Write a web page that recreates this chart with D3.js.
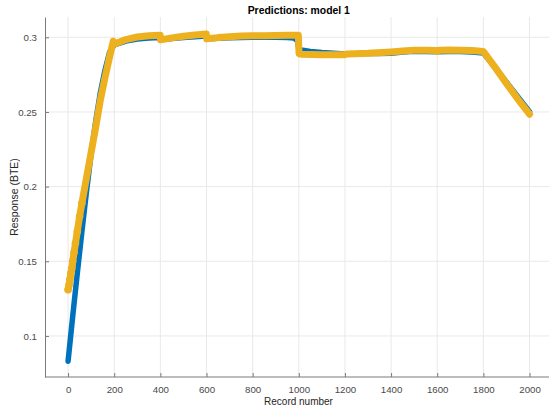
<!DOCTYPE html>
<html>
<head>
<meta charset="utf-8">
<script src="https://cdn.jsdelivr.net/npm/d3@7"></script>
<style>
  html, body { margin: 0; padding: 0; background: #ffffff; }
  svg { display: block; }
  text { font-family: "Liberation Sans", Arial, Helvetica, sans-serif; }
</style>
</head>
<body>
<svg id="chart" width="549" height="409"></svg>
<script>
// Record numbers and responses: true values (blue) and model predictions (yellow)
const trueRecords = [0, 20, 40, 60, 80, 100, 120, 140, 160, 180, 200,
  250, 300, 350, 399, 401, 450, 500, 550, 599, 601, 650, 700, 750, 800,
  850, 900, 950, 980, 995, 1000, 1010, 1050, 1100, 1150, 1200, 1250, 1300,
  1350, 1400, 1450, 1500, 1550, 1600, 1650, 1700, 1750, 1800, 1850, 1900,
  1950, 2000];
const trueValues = [0.083, 0.113, 0.142, 0.170, 0.197, 0.222, 0.244, 0.263, 0.278, 0.290, 0.295,
  0.2975, 0.2988, 0.2995, 0.2998, 0.2983, 0.2992, 0.2999, 0.3004, 0.3008, 0.2988, 0.2993, 0.2997, 0.2999, 0.3000,
  0.3000, 0.3000, 0.2999, 0.2995, 0.2975, 0.2925, 0.2915, 0.2905, 0.2898, 0.2893, 0.2888, 0.2890, 0.2892,
  0.2892, 0.2893, 0.2902, 0.2906, 0.2905, 0.2903, 0.2905, 0.2905, 0.2902, 0.2895, 0.2800, 0.2700,
  0.2600, 0.2502];

const predRecords = [0, 4, 8, 12, 16, 20, 26, 32, 40, 50, 60, 80, 100, 120, 140, 160, 180, 196,
  202, 250, 300, 350, 399, 401, 450, 500, 550, 599, 601, 650, 700, 750, 800, 850, 900, 950, 998,
  1001, 1010, 1100, 1200, 1210, 1300, 1400, 1450, 1500, 1550, 1595, 1600, 1610, 1650, 1700, 1750,
  1800, 1850, 1900, 1950, 2000];
const predValues = [0.131, 0.134, 0.138, 0.142, 0.145, 0.150, 0.156, 0.162, 0.170, 0.180, 0.189, 0.206, 0.223, 0.240, 0.258, 0.273, 0.287, 0.2975,
  0.2955, 0.2985, 0.3002, 0.3010, 0.3013, 0.2983, 0.2996, 0.3007, 0.3016, 0.3022, 0.2990, 0.2998, 0.3004, 0.3008, 0.3010, 0.3010, 0.3012, 0.3013, 0.3013,
  0.2890, 0.2887, 0.2884, 0.2884, 0.2889, 0.2893, 0.2902, 0.2908, 0.2913, 0.2914, 0.2912, 0.2905, 0.2914, 0.2915, 0.2914, 0.2912,
  0.2905, 0.2800, 0.2690, 0.2585, 0.2485];

const xTicks = [0, 200, 400, 600, 800, 1000, 1200, 1400, 1600, 1800, 2000];
const yTicks = [0.1, 0.15, 0.2, 0.25, 0.3];

const titleText = "Predictions: model 1";
const xLabelText = "Record number";
const yLabelText = "Response (BTE)";

const svg = d3.select("#chart");
const plot = { left: 45, right: 552.6, top: 17, bottom: 377 };

const x = d3.scaleLinear().domain([-100, 2100]).range([plot.left, plot.right]);
const y = d3.scaleLinear().domain([0.0725, 0.3136]).range([plot.bottom, plot.top]);

// Grid
const grid = svg.append("g").attr("class", "grid");
grid.selectAll("line.vx").data(xTicks).enter().append("line")
  .attr("x1", d => x(d)).attr("x2", d => x(d))
  .attr("y1", plot.top).attr("y2", plot.bottom)
  .attr("stroke", "#e9e9e9").attr("stroke-width", 1);
grid.selectAll("line.hy").data(yTicks).enter().append("line")
  .attr("x1", plot.left).attr("x2", plot.right)
  .attr("y1", d => y(d)).attr("y2", d => y(d))
  .attr("stroke", "#e9e9e9").attr("stroke-width", 1);

// Axes with inward ticks
const xAxis = d3.axisBottom(x).tickValues(xTicks).tickFormat(d3.format("d"))
  .tickSizeInner(-4).tickSizeOuter(0).tickPadding(9);
const yAxis = d3.axisLeft(y).tickValues(yTicks).tickFormat(d => String(d))
  .tickSizeInner(-4).tickSizeOuter(0).tickPadding(8);

const gx = svg.append("g").attr("transform", `translate(0,${plot.bottom})`).call(xAxis);
const gy = svg.append("g").attr("transform", `translate(${plot.left},0)`).call(yAxis);
[gx, gy].forEach(g => {
  g.select(".domain").attr("stroke", "#7a7a7a").attr("stroke-width", 1);
  g.selectAll(".tick line").attr("stroke", "#7a7a7a");
  g.selectAll(".tick text").attr("fill", "#4a4a4a")
    .style("font-size", "9.7px")
    .style("font-family", "'Liberation Sans', Arial, sans-serif");
});
gx.select(".domain").attr("d", `M${plot.left},0H549`);

// Series
const trueData = trueRecords.map((r, i) => [r, trueValues[i]]);
const predData = predRecords.map((r, i) => [r, predValues[i]]);
const line = d3.line().x(d => x(d[0])).y(d => y(d[1]));

svg.append("path").datum(trueData)
  .attr("d", line)
  .attr("fill", "none")
  .attr("stroke", "#0072BD")
  .attr("stroke-width", 5.5)
  .attr("stroke-linejoin", "round")
  .attr("stroke-linecap", "round");

svg.append("path").datum(predData)
  .attr("d", line)
  .attr("fill", "none")
  .attr("stroke", "#EDB120")
  .attr("stroke-width", 7)
  .attr("stroke-linejoin", "round")
  .attr("stroke-linecap", "round");

svg.append("g").selectAll("circle").data(predData.filter(d => d[0] <= 60)).enter()
  .append("circle")
  .attr("cx", d => x(d[0])).attr("cy", d => y(d[1]))
  .attr("r", 3.8)
  .attr("fill", "#EDB120");

// Labels
svg.append("text")
  .attr("x", (plot.left + plot.right) / 2).attr("y", 14)
  .attr("text-anchor", "middle")
  .style("font-size", "10.4px").style("font-weight", "bold")
  .attr("fill", "#000")
  .text(titleText);

svg.append("text")
  .attr("x", 298.5).attr("y", 405)
  .attr("text-anchor", "middle")
  .style("font-size", "10px")
  .attr("fill", "#262626")
  .text(xLabelText);

svg.append("text")
  .attr("transform", `translate(17.5,${(plot.top + plot.bottom) / 2}) rotate(-90)`)
  .attr("text-anchor", "middle")
  .style("font-size", "10.5px")
  .attr("fill", "#262626")
  .text(yLabelText);
</script>
</body>
</html>
